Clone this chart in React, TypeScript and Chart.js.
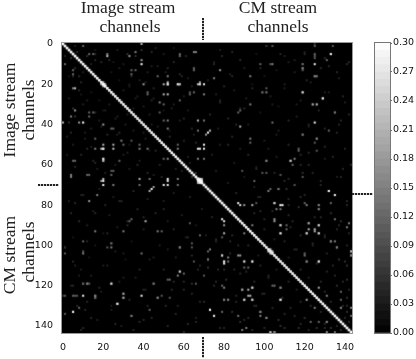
import React, { useEffect, useRef } from "react";
import { Chart, registerables } from "chart.js";

Chart.register(...registerables);

const axisTicks = [0, 20, 40, 60, 80, 100, 120, 140];
const colorbarTicks = [0, 0.03, 0.06, 0.09, 0.12, 0.15, 0.18, 0.21, 0.24, 0.27, 0.3];
const colorbarLevels = [
  0, 0.0075, 0.015, 0.0225, 0.03, 0.0375, 0.045, 0.0525, 0.06, 0.0675, 0.075, 0.0825, 0.09, 0.0975,
  0.105, 0.1125, 0.12, 0.1275, 0.135, 0.1425, 0.15, 0.1575, 0.165, 0.1725, 0.18, 0.1875, 0.195,
  0.2025, 0.21, 0.2175, 0.225, 0.2325, 0.24, 0.2475, 0.255, 0.2625, 0.27, 0.2775, 0.285, 0.2925, 0.3,
];

const diagonal = [
  0.3, 0.29, 0.28, 0.3, 0.28, 0.3, 0.29, 0.28, 0.3, 0.29, 0.28, 0.29, 0.3, 0.28, 0.29, 0.3, 0.28, 0.29, 0.3, 0.3,
  0.3, 0.29, 0.28, 0.3, 0.29, 0.28, 0.3, 0.29, 0.28, 0.3, 0.29, 0.28, 0.3, 0.29, 0.28, 0.3, 0.29, 0.28, 0.3, 0.29,
  0.28, 0.3, 0.29, 0.28, 0.3, 0.29, 0.28, 0.3, 0.29, 0.28, 0.3, 0.29, 0.3, 0.28, 0.29, 0.3, 0.28, 0.29, 0.3, 0.28,
  0.29, 0.3, 0.28, 0.29, 0.3, 0.28, 0.29, 0.3, 0.3, 0.29, 0.28, 0.3, 0.29, 0.28, 0.3, 0.29, 0.28, 0.3, 0.29, 0.28,
  0.3, 0.29, 0.28, 0.3, 0.29, 0.28, 0.3, 0.29, 0.28, 0.3, 0.29, 0.28, 0.3, 0.29, 0.28, 0.3, 0.29, 0.28, 0.3, 0.29,
  0.28, 0.3, 0.29, 0.3, 0.28, 0.29, 0.3, 0.28, 0.29, 0.3, 0.28, 0.29, 0.3, 0.28, 0.29, 0.3, 0.28, 0.29, 0.3, 0.28,
  0.29, 0.3, 0.28, 0.29, 0.3, 0.3, 0.29, 0.28, 0.3, 0.29, 0.28, 0.3, 0.29, 0.28, 0.3, 0.29, 0.28, 0.3, 0.29, 0.28,
  0.3, 0.29, 0.28, 0.3,
];

// [row, column, value], upper triangle; the matrix is symmetric.
const brightCells: [number, number, number][] = [
  [0, 39, 0.14], [10, 39, 0.2], [8, 39, 0.12], [6, 22, 0.15], [5, 22, 0.1], [6, 33, 0.12], [4, 36, 0.1],
  [5, 13, 0.08], [5, 15, 0.08], [1, 10, 0.08], [20, 52, 0.24], [19, 52, 0.14], [20, 50, 0.14], [25, 52, 0.15],
  [25, 50, 0.14], [20, 58, 0.12], [20, 57, 0.12], [20, 67, 0.15], [20, 70, 0.2], [20, 68, 0.2], [19, 68, 0.12],
  [5, 58, 0.08], [6, 58, 0.08], [4, 65, 0.1], [12, 65, 0.08], [13, 65, 0.08], [13, 34, 0.08], [13, 36, 0.08],
  [15, 34, 0.08], [20, 40, 0.12], [24, 42, 0.08], [25, 42, 0.08], [29, 48, 0.1], [30, 50, 0.08], [28, 58, 0.08],
  [24, 65, 0.08], [24, 63, 0.07], [38, 50, 0.08], [38, 52, 0.1], [42, 52, 0.1], [38, 67, 0.14], [43, 67, 0.09],
  [38, 70, 0.09], [34, 48, 0.07], [52, 67, 0.26], [52, 68, 0.18], [52, 70, 0.25], [50, 70, 0.24], [20, 20, 0.3],
  [19, 20, 0.14], [20, 21, 0.14], [25, 70, 0.1], [52, 20, 0.2], [20, 57, 0.18],
  [20, 58, 0.14], [16, 47, 0.08], [16, 52, 0.1], [57, 67, 0.1],
  [67, 68, 0.28], [68, 68, 0.3], [67, 67, 0.28], [67, 69, 0.14], [68, 69, 0.18], [43, 73, 0.14], [4, 66, 0.1],
  [25, 63, 0.08], [52, 57, 0.1], [50, 57, 0.08], [57, 70, 0.09],
  [10, 125, 0.25], [39, 125, 0.26], [27, 129, 0.2], [30, 126, 0.13], [30, 124, 0.13], [24, 119, 0.15], [5, 133, 0.14],
  [10, 104, 0.1], [10, 98, 0.08], [13, 78, 0.12], [16, 93, 0.1], [17, 75, 0.1], [41, 88, 0.14], [34, 87, 0.08],
  [33, 88, 0.08], [44, 72, 0.2], [45, 71, 0.12], [30, 93, 0.1], [24, 101, 0.1], [24, 99, 0.07], [12, 119, 0.1],
  [10, 119, 0.08], [5, 125, 0.08], [16, 125, 0.1], [16, 126, 0.08], [34, 135, 0.09], [0, 125, 0.06], [1, 104, 0.07],
  [1, 101, 0.06], [1, 134, 0.07], [47, 93, 0.1], [47, 126, 0.1], [45, 119, 0.09], [39, 104, 0.09], [43, 132, 0.08],
  [9, 142, 0.05], [73, 132, 0.25], [75, 135, 0.18], [79, 87, 0.22], [80, 88, 0.18], [80, 108, 0.2], [80, 109, 0.2],
  [80, 94, 0.14], [80, 90, 0.12], [79, 105, 0.14], [82, 106, 0.1], [90, 108, 0.16], [94, 108, 0.18], [89, 122, 0.12],
  [90, 127, 0.16], [94, 127, 0.16], [94, 121, 0.16], [93, 125, 0.14], [80, 127, 0.1], [82, 127, 0.1], [80, 121, 0.1],
  [79, 133, 0.08], [89, 142, 0.1], [91, 141, 0.1], [49, 93, 0.08], [53, 117, 0.08], [57, 115, 0.1], [58, 113, 0.1],
  [58, 101, 0.08], [68, 95, 0.08], [63, 89, 0.07], [64, 99, 0.07], [64, 101, 0.07], [65, 108, 0.07], [70, 115, 0.07],
  [72, 107, 0.09], [72, 103, 0.08], [72, 111, 0.06], [88, 105, 0.12], [90, 94, 0.1], [102, 103, 0.16], [103, 104, 0.16],
  [108, 127, 0.18], [105, 120, 0.09], [108, 121, 0.09], [103, 143, 0.14], [105, 143, 0.1], [101, 136, 0.1],
  [98, 133, 0.1], [121, 127, 0.13], [123, 138, 0.08], [127, 138, 0.08], [125, 131, 0.1], [138, 131, 0.1],
  [131, 143, 0.1], [135, 143, 0.08], [131, 138, 0.08], [105, 79, 0.16], [108, 80, 0.09], [108, 82, 0.09],
  [105, 87, 0.12], [108, 90, 0.12], [108, 94, 0.12], [111, 92, 0.08], [111, 90, 0.08], [120, 79, 0.08], [122, 89, 0.12],
  [122, 92, 0.14], [121, 94, 0.14], [127, 90, 0.14], [127, 94, 0.14], [125, 92, 0.14], [121, 108, 0.1], [127, 108, 0.14],
  [120, 104, 0.08], [133, 98, 0.1], [135, 98, 0.1], [136, 101, 0.1], [135, 87, 0.09], [127, 80, 0.07], [127, 82, 0.07],
  [107, 72, 0.07], [132, 73, 0.25], [135, 75, 0.15], [102, 73, 0.1], [96, 79, 0.07], [143, 103, 0.1], [143, 105, 0.1],
  [133, 5, 0.2], [129, 27, 0.14], [119, 24, 0.16], [113, 58, 0.16], [101, 58, 0.1], [119, 45, 0.08], [125, 1, 0.07],
  [125, 6, 0.07], [125, 7, 0.07], [119, 10, 0.07], [119, 12, 0.08], [119, 13, 0.07], [125, 16, 0.1], [126, 16, 0.08],
  [126, 30, 0.08], [124, 30, 0.07], [135, 34, 0.08], [126, 47, 0.09], [125, 49, 0.07], [126, 53, 0.07], [114, 60, 0.08],
  [119, 66, 0.07], [119, 64, 0.06], [117, 52, 0.08], [101, 22, 0.07], [99, 24, 0.08], [103, 10, 0.07], [101, 1, 0.06],
  [131, 8, 0.08], [120, 5, 0.05],
];

const faintCells: [number, number, number][] = [
  [1, 6, 0.04], [3, 16, 0.03], [3, 27, 0.04], [2, 46, 0.04], [2, 55, 0.03], [4, 44, 0.05], [5, 50, 0.04], [7, 4, 0.05],
  [8, 16, 0.05], [9, 25, 0.03], [10, 30, 0.04], [11, 47, 0.04], [12, 6, 0.05], [12, 52, 0.05], [14, 10, 0.04],
  [14, 24, 0.03], [14, 42, 0.04], [15, 58, 0.05], [16, 5, 0.05], [17, 62, 0.04], [18, 28, 0.03], [18, 38, 0.04],
  [19, 9, 0.05], [21, 33, 0.04], [22, 45, 0.05], [23, 8, 0.05], [23, 30, 0.04], [24, 25, 0.03], [26, 60, 0.04],
  [27, 36, 0.04], [28, 12, 0.04], [28, 44, 0.05], [29, 28, 0.03], [31, 40, 0.04], [32, 5, 0.06], [32, 54, 0.04],
  [33, 20, 0.03], [34, 16, 0.05], [35, 32, 0.04], [36, 6, 0.06], [37, 26, 0.04], [37, 60, 0.05], [39, 3, 0.06],
  [39, 10, 0.05], [40, 44, 0.04], [41, 19, 0.04], [42, 64, 0.05], [43, 35, 0.04], [44, 11, 0.04], [45, 27, 0.04],
  [46, 53, 0.05], [47, 41, 0.04], [48, 60, 0.04], [49, 66, 0.05], [50, 33, 0.03], [51, 14, 0.04], [53, 43, 0.03],
  [55, 9, 0.05], [55, 30, 0.04], [56, 62, 0.04], [58, 38, 0.04], [59, 16, 0.05], [60, 48, 0.04], [61, 6, 0.05],
  [62, 33, 0.04], [63, 59, 0.04], [64, 21, 0.04], [65, 45, 0.04], [66, 64, 0.06], [3, 78, 0.04], [4, 84, 0.05],
  [6, 79, 0.05], [5, 96, 0.03], [6, 110, 0.04], [4, 120, 0.04], [7, 130, 0.05], [8, 88, 0.03], [9, 75, 0.04],
  [9, 112, 0.04], [11, 132, 0.05], [12, 90, 0.04], [13, 106, 0.03], [14, 115, 0.04], [15, 83, 0.04], [16, 100, 0.03],
  [17, 137, 0.04], [18, 72, 0.04], [19, 123, 0.04], [20, 94, 0.03], [21, 80, 0.05], [22, 110, 0.04], [23, 85, 0.04],
  [24, 130, 0.04], [25, 76, 0.04], [26, 103, 0.04], [27, 91, 0.04], [28, 118, 0.04], [29, 78, 0.05], [29, 140, 0.04],
  [31, 107, 0.03], [32, 88, 0.05], [33, 127, 0.05], [34, 98, 0.03], [35, 73, 0.05], [36, 116, 0.04], [37, 82, 0.05],
  [38, 138, 0.05], [40, 92, 0.04], [41, 122, 0.04], [42, 77, 0.04], [43, 107, 0.04], [44, 136, 0.05], [46, 84, 0.05],
  [48, 100, 0.04], [50, 78, 0.04], [50, 112, 0.05], [51, 130, 0.05], [52, 88, 0.04], [54, 122, 0.05], [55, 74, 0.04],
  [56, 106, 0.04], [57, 130, 0.04], [59, 85, 0.04], [60, 118, 0.05], [61, 96, 0.04], [62, 139, 0.05], [63, 76, 0.04],
  [64, 124, 0.05], [66, 90, 0.03], [66, 136, 0.04], [67, 112, 0.05], [69, 82, 0.04], [70, 128, 0.05], [71, 95, 0.04],
  [74, 86, 0.05], [75, 120, 0.05], [76, 97, 0.05], [77, 112, 0.05], [78, 141, 0.05], [81, 117, 0.06], [83, 98, 0.05],
  [84, 133, 0.06], [85, 112, 0.05], [86, 125, 0.05], [87, 100, 0.05], [88, 138, 0.06], [91, 113, 0.05], [92, 136, 0.05],
  [95, 118, 0.05], [96, 130, 0.05], [97, 105, 0.04], [99, 124, 0.05], [100, 141, 0.05], [102, 115, 0.05], [104, 131, 0.05],
  [106, 112, 0.04], [107, 137, 0.06], [109, 126, 0.05], [110, 141, 0.06], [112, 118, 0.05], [113, 131, 0.05],
  [115, 135, 0.05], [116, 122, 0.04], [117, 141, 0.06], [118, 128, 0.05], [120, 136, 0.06], [123, 130, 0.05],
  [126, 141, 0.06], [128, 133, 0.05], [130, 139, 0.05], [133, 141, 0.06], [136, 140, 0.05], [138, 142, 0.05],
  [95, 84, 0.05], [98, 76, 0.05], [100, 92, 0.05], [104, 83, 0.05], [110, 98, 0.05], [112, 80, 0.05], [114, 88, 0.05],
  [116, 102, 0.05], [118, 76, 0.05], [124, 100, 0.05], [128, 86, 0.05], [130, 95, 0.05], [134, 110, 0.05], [137, 90, 0.05],
  [139, 118, 0.05], [141, 80, 0.05], [140, 108, 0.06], [142, 94, 0.05], [141, 130, 0.05], [142, 122, 0.05],
  [98, 12, 0.05], [104, 30, 0.04], [106, 45, 0.04], [108, 5, 0.05], [110, 20, 0.04], [112, 38, 0.05], [115, 8, 0.04],
  [116, 30, 0.04], [118, 55, 0.05], [121, 18, 0.05], [122, 40, 0.05], [128, 12, 0.05], [130, 42, 0.05], [132, 24, 0.04],
  [134, 56, 0.05], [136, 14, 0.05], [137, 40, 0.05], [138, 66, 0.05], [139, 26, 0.05], [140, 52, 0.05], [141, 10, 0.05],
  [142, 35, 0.05], [143, 60, 0.05], [96, 62, 0.05], [102, 52, 0.04], [105, 64, 0.05], [110, 68, 0.05], [122, 60, 0.05],
  [128, 68, 0.05], [75, 10, 0.05], [78, 28, 0.05], [82, 50, 0.05], [84, 16, 0.05], [86, 40, 0.05], [88, 8, 0.05],
  [90, 32, 0.05], [92, 55, 0.05], [94, 22, 0.05],
];

const gray = (v: number, gain = 1) => {
  const g = Math.round((Math.min(v * gain, 0.3) / 0.3) * 255);
  return `rgb(${g},${g},${g})`;
};

const tickFont = { family: "'DejaVu Sans'", size: 9.5 };

function buildPoints() {
  const pts: { x: number; y: number; v: number }[] = [];
  for (const [r, c, v] of [...faintCells, ...brightCells]) {
    pts.push({ x: c, y: r, v });
    if (r !== c) pts.push({ x: r, y: c, v });
  }
  diagonal.forEach((v, i) => pts.push({ x: i, y: i, v }));
  pts.sort((a, b) => a.v - b.v);
  return pts;
}

const serif = "'Liberation Serif', serif";

function Label(props: { text: string; cx: number; cy: number; rotate?: boolean; size?: number }) {
  return (
    <div
      style={{
        position: "absolute",
        left: props.cx,
        top: props.cy,
        transform: `translate(-50%,-50%)${props.rotate ? " rotate(-90deg)" : ""}`,
        fontFamily: serif,
        fontSize: props.size ?? 17.5,
        color: "#222",
        whiteSpace: "nowrap",
        lineHeight: 1,
      }}
    >
      {props.text}
    </div>
  );
}

function Dots(props: { x: number; y: number; len: number; vertical?: boolean }) {
  const dir = props.vertical ? "to bottom" : "to right";
  return (
    <div
      style={{
        position: "absolute",
        left: props.x,
        top: props.y,
        width: props.vertical ? 2 : props.len,
        height: props.vertical ? props.len : 2,
        background: `repeating-linear-gradient(${dir}, #222 0 2px, #ccc 2px 3px)`,
      }}
    />
  );
}

// 3x3 smoothing kernel that softens the heatmap, as image interpolation does.
const kernel: [number, number, number][] = [
  [-1, -1, 1], [0, -1, 2], [1, -1, 1],
  [-1, 0, 2], [1, 0, 2],
  [-1, 1, 1], [0, 1, 2], [1, 1, 1],
  [0, 0, 16],
];

export default function App() {
  const mainRef = useRef<HTMLCanvasElement>(null);
  const barRef = useRef<HTMLCanvasElement>(null);

  useEffect(() => {
    const pts = buildPoints();
    const frame = {
      id: "frame",
      beforeDatasetsDraw(c: any) {
        const a = c.chartArea;
        c.ctx.save();
        c.ctx.fillStyle = "#000";
        c.ctx.fillRect(a.left, a.top, a.width, a.height);
        c.ctx.restore();
      },
      afterDatasetsDraw(c: any) {
        const a = c.chartArea;
        const ctx = c.ctx;
        const snap = document.createElement("canvas");
        snap.width = c.canvas.width;
        snap.height = c.canvas.height;
        snap.getContext("2d")!.drawImage(c.canvas, 0, 0);
        ctx.save();
        ctx.setTransform(1, 0, 0, 1, 0, 0);
        ctx.beginPath();
        ctx.rect(a.left, a.top, a.width, a.height);
        ctx.clip();
        let total = 0;
        for (const [dx, dy, w] of kernel) {
          total += w;
          ctx.globalAlpha = w / total;
          ctx.drawImage(snap, dx, dy);
        }
        ctx.restore();
      },
      afterDraw(c: any) {
        const a = c.chartArea;
        c.ctx.save();
        c.ctx.strokeStyle = "#999";
        c.ctx.lineWidth = 1;
        c.ctx.strokeRect(a.left - 0.5, a.top - 0.5, a.width + 1, a.height + 1);
        c.ctx.restore();
      },
    };
    const setTicks = (vals: number[]) => (s: any) => {
      s.ticks = vals.map((value) => ({ value }));
    };
    const main = new Chart(mainRef.current!, {
      type: "scatter",
      data: {
        datasets: [
          {
            data: pts,
            pointStyle: "rect",
            pointRadius: pts.map((p) => (p.x === p.y ? 1.85 : 1.42)),
            pointBorderWidth: 0,
            pointBackgroundColor: pts.map((p) => gray(p.v, p.v < 0.065 ? 1 : 1.6)),
          },
        ],
      },
      plugins: [frame],
      options: {
        animation: false,
        responsive: false,
        layout: { padding: { left: 0, right: 64, top: 43, bottom: 0 } },
        plugins: { legend: { display: false }, tooltip: { enabled: false } },
        scales: {
          x: {
            type: "linear",
            min: -0.5,
            max: 143.5,
            grid: { display: false },
            border: { display: false },
            afterBuildTicks: setTicks(axisTicks),
            afterFit: (s: any) => {
              s.height = 26;
            },
            ticks: { font: tickFont, color: "#111", padding: 1, maxRotation: 0, autoSkip: false },
          },
          y: {
            type: "linear",
            reverse: true,
            min: -0.5,
            max: 143.5,
            grid: { display: false },
            border: { display: false },
            afterBuildTicks: setTicks(axisTicks),
            afterFit: (s: any) => {
              s.width = 62;
            },
            ticks: { font: tickFont, color: "#111", padding: 1, autoSkip: false },
          },
        },
      },
    } as any);

    const lows = colorbarLevels.slice(0, -1);
    const cb = new Chart(barRef.current!, {
      type: "bar",
      data: {
        labels: ["c"],
        datasets: lows.map((lo, i) => ({
          data: [[lo, colorbarLevels[i + 1]]],
          backgroundColor: gray(lo + 0.00375),
          borderWidth: 0,
          barPercentage: 1,
          categoryPercentage: 1,
          grouped: false,
        })),
      },
      plugins: [
        {
          id: "cbframe",
          afterDraw(c: any) {
            const a = c.chartArea;
            c.ctx.save();
            c.ctx.strokeStyle = "#777";
            c.ctx.lineWidth = 1;
            c.ctx.strokeRect(a.left - 0.5, a.top - 0.5, a.width + 1, a.height + 1);
            c.ctx.restore();
          },
        },
      ],
      options: {
        animation: false,
        responsive: false,
        layout: { padding: { left: 375, right: 0, top: 43, bottom: 26 } },
        plugins: { legend: { display: false }, tooltip: { enabled: false } },
        scales: {
          x: { display: false, stacked: false },
          y: {
            position: "right",
            min: 0,
            max: 0.3,
            grid: { display: true, drawOnChartArea: false, drawTicks: true, tickLength: 2, color: "#666" },
            border: { display: false },
            afterBuildTicks: setTicks(colorbarTicks),
            afterFit: (s: any) => {
              s.width = 26;
            },
            ticks: {
              font: tickFont,
              color: "#111",
              padding: 1,
              autoSkip: false,
              callback: (v: number) => v.toFixed(2),
            },
          },
        },
      },
    } as any);
    return () => {
      main.destroy();
      cb.destroy();
    };
  }, []);

  return (
    <div style={{ position: "fixed", left: 0, top: 0, width: 416, height: 359, background: "#fff", overflow: "hidden" }}>
      <canvas ref={mainRef} width={416} height={359} style={{ position: "absolute", left: 0, top: 0, width: 416, height: 359 }} />
      <canvas ref={barRef} width={416} height={359} style={{ position: "absolute", left: 0, top: 0, width: 416, height: 359 }} />
      <Label text="Image stream" cx={128} cy={8} />
      <Label text="channels" cx={130} cy={27} />
      <Label text="CM stream" cx={278} cy={8} />
      <Label text="channels" cx={278} cy={27} />
      <Label text="Image stream" cx={10} cy={110} rotate />
      <Label text="channels" cx={29} cy={110} rotate />
      <Label text="CM stream" cx={10} cy={255} rotate />
      <Label text="channels" cx={29} cy={252} rotate />
      <Dots x={202} y={18} len={22} vertical />
      <Dots x={202} y={337} len={21} vertical />
      <Dots x={38} y={184} len={21} />
      <Dots x={352} y={193} len={21} />
    </div>
  );
}
